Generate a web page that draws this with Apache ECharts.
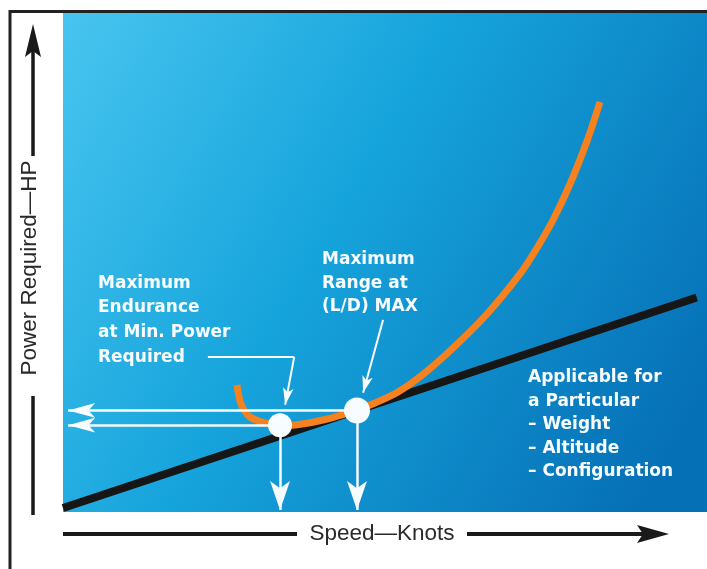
<!DOCTYPE html>
<html><head><meta charset="utf-8">
<script src="https://cdn.jsdelivr.net/npm/echarts@6/dist/echarts.min.js"></script>
<style>html,body{margin:0;padding:0;background:#fff;}#c{width:707px;height:569px;}</style>
</head><body><div id="c"></div>
<script>
// Power required curve (speed vs power, arbitrary 0-100 units)
const speed = [27.02, 27.48, 28.11, 29.04, 30.90, 33.70, 37.11, 40.68, 43.32, 45.65, 48.45, 52.02, 55.59, 60.56, 65.84, 70.96, 73.60, 76.09, 78.73, 81.37, 83.39];
const powerRequired = [25.45, 22.24, 20.44, 19.04, 18.04, 17.23, 17.64, 18.54, 19.48, 20.44, 21.84, 24.05, 27.25, 32.87, 39.68, 47.70, 52.91, 58.52, 65.73, 74.35, 82.16];
// Tangent line from origin
const tangentSpeed = [0, 98.4];
const tangentPower = [0.8, 43.0];
// Key points: max endurance (min power), max range (L/D max)
const keyNames = ['Maximum Endurance', 'Maximum Range'];
const keySpeed = [33.70, 45.65];
const keyPower = [17.40, 20.35];
// Annotation leader lines (data units)
const leader1Speed = [22.5, 35.9, 34.5];
const leader1Power = [31.1, 31.1, 21.5];
const leader2Speed = [49.7, 46.6];
const leader2Power = [38.5, 23.9];
// Texts
const yTitle = 'Power Required\u2014HP';
const xTitle = 'Speed\u2014Knots';
const noteEndurance = 'Maximum\nEndurance\nat Min. Power\nRequired';
const noteRange = 'Maximum\nRange at\n(L/D) MAX';
const noteApplicable = 'Applicable for\na Particular\n\u2013 Weight\n\u2013 Altitude\n\u2013 Configuration';

const ARROW_LEFT = 0.8, ARROW_BOTTOM = 0.4;
const WHITE = '#f7fcff';

const chart = echarts.init(document.getElementById('c'), null, {renderer: 'canvas'});

const curve = speed.map((s, i) => [s, powerRequired[i]]);
const tangent = tangentSpeed.map((s, i) => [s, tangentPower[i]]);
const keyPts = keySpeed.map((s, i) => ({name: keyNames[i], value: [s, keyPower[i]], symbolSize: i === 0 ? 24 : 26}));

const hArrows = keySpeed.map((s, i) => ({coords: [[s, keyPower[i]], [ARROW_LEFT, keyPower[i]]]}));
const vArrows = keySpeed.map((s, i) => ({coords: [[s, keyPower[i]], [s, ARROW_BOTTOM]]}));
const leaderPlain = [{coords: [[leader1Speed[0], leader1Power[0]], [leader1Speed[1], leader1Power[1]]]}];
const leaderArrows = [
  {coords: [[leader1Speed[1], leader1Power[1]], [leader1Speed[2], leader1Power[2]]]},
  {coords: [[leader2Speed[0], leader2Power[0]], [leader2Speed[1], leader2Power[1]]]}
];

const panelFont = 'bold 17px "DejaVu Sans"';
const axisFont = '22.5px "Liberation Sans"';

const option = {
  animation: false,
  backgroundColor: '#ffffff',
  grid: {left: 63, right: 0, top: 13, bottom: 57, containLabel: false},
  xAxis: {type: 'value', min: 0, max: 100, show: false},
  yAxis: {type: 'value', min: 0, max: 100, show: false},
  graphic: [
    {type: 'rect', z: -10, shape: {x: 63, y: 13, width: 644, height: 499},
     style: {fill: new echarts.graphic.LinearGradient(0, 0, 1, 0.75, [
       {offset: 0, color: '#48c5ef'}, {offset: 0.45, color: '#16a4dc'}, {offset: 1, color: '#0670b6'}])}},
    // outer frame
    {type: 'line', shape: {x1: 10, y1: 10, x2: 10, y2: 569}, style: {stroke: '#222', lineWidth: 3}},
    {type: 'line', shape: {x1: 9, y1: 11.5, x2: 707, y2: 11.5}, style: {stroke: '#222', lineWidth: 3}},
    // y axis arrow
    {type: 'line', shape: {x1: 33, y1: 50, x2: 33, y2: 156}, style: {stroke: '#1a1a1a', lineWidth: 3.5}},
    {type: 'line', shape: {x1: 33, y1: 396, x2: 33, y2: 515}, style: {stroke: '#1a1a1a', lineWidth: 3.5}},
    {type: 'polygon', shape: {points: [[33, 24], [41, 57], [33, 51], [25, 57]]}, style: {fill: '#1a1a1a'}},
    {type: 'text', z: 100, x: 30, y: 268, rotation: Math.PI / 2,
     style: {text: yTitle, font: axisFont, fill: '#2a2a2a', align: 'center', verticalAlign: 'middle'}},
    // x axis arrow
    {type: 'line', shape: {x1: 63, y1: 534, x2: 297, y2: 534}, style: {stroke: '#1a1a1a', lineWidth: 4}},
    {type: 'line', shape: {x1: 467, y1: 534, x2: 645, y2: 534}, style: {stroke: '#1a1a1a', lineWidth: 4}},
    {type: 'polygon', shape: {points: [[669, 534], [637, 525], [643, 534], [637, 543]]}, style: {fill: '#1a1a1a'}},
    {type: 'text', z: 100, x: 382, y: 534,
     style: {text: xTitle, font: axisFont, fill: '#2a2a2a', align: 'center', verticalAlign: 'middle'}},
    // notes
    {type: 'text', z: 100, x: 98, y: 271,
     style: {text: noteEndurance, font: panelFont, fill: WHITE, lineHeight: 24.7, verticalAlign: 'top'}},
    {type: 'text', z: 100, x: 322, y: 248,
     style: {text: noteRange, font: panelFont, fill: WHITE, lineHeight: 23.5, verticalAlign: 'top'}},
    {type: 'text', z: 100, x: 528, y: 366,
     style: {text: noteApplicable, font: panelFont, fill: WHITE, lineHeight: 23.5, verticalAlign: 'top'}}
  ],
  series: [
    {type: 'line', name: 'Tangent', data: tangent, symbol: 'none', z: 2,
     lineStyle: {color: '#161616', width: 8, cap: 'butt'}},
    {type: 'line', name: 'Power Required', data: curve, symbol: 'none', smooth: 0.3, z: 3,
     lineStyle: {color: '#f5821f', width: 7, cap: 'butt'}},
    {type: 'lines', coordinateSystem: 'cartesian2d', z: 4, data: hArrows,
     symbol: ['none', 'arrow'], symbolSize: [0, [11, 27]],
     lineStyle: {color: WHITE, width: 2.5, opacity: 1}},
    {type: 'lines', coordinateSystem: 'cartesian2d', z: 4, data: vArrows,
     symbol: ['none', 'arrow'], symbolSize: [0, [15, 29]],
     lineStyle: {color: WHITE, width: 2.5, opacity: 1}},
    {type: 'lines', coordinateSystem: 'cartesian2d', z: 4, data: leaderPlain,
     symbol: ['none', 'none'],
     lineStyle: {color: WHITE, width: 2, opacity: 1}},
    {type: 'lines', coordinateSystem: 'cartesian2d', z: 4, data: leaderArrows,
     symbol: ['none', 'arrow'], symbolSize: [0, [8, 17]],
     lineStyle: {color: WHITE, width: 2, opacity: 1}},
    {type: 'scatter', name: 'Key points', data: keyPts, z: 5,
     itemStyle: {color: WHITE, opacity: 1}}
  ]
};
chart.setOption(option);
</script></body></html>
